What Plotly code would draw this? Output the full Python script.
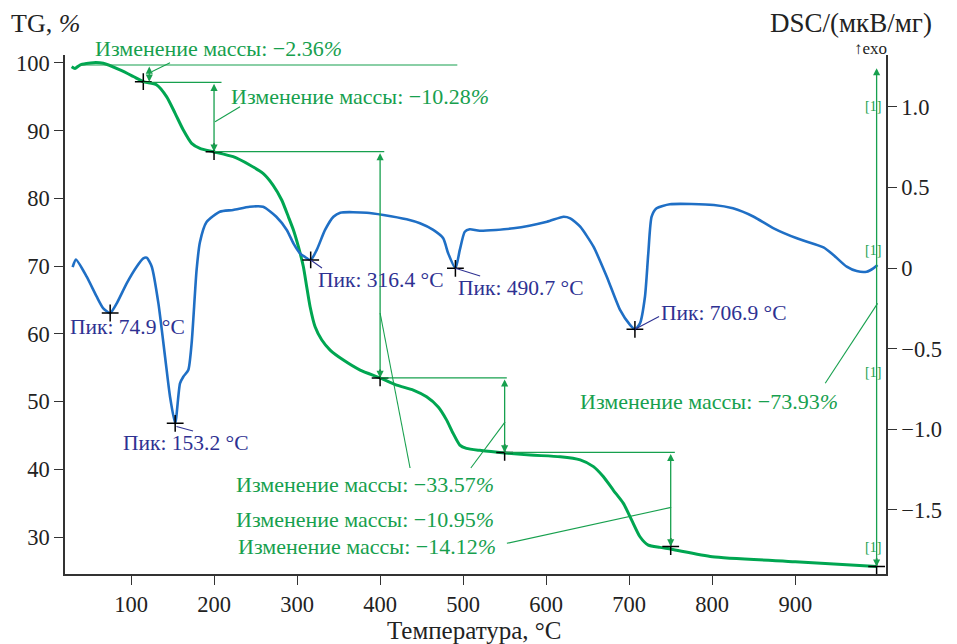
import plotly.graph_objects as go

# ---------------- data ----------------
tg_temp = [28.5, 32.5, 38.5, 54.6, 66.6, 86.7, 102.8, 114.8, 131, 143, 153, 163, 173, 183, 199,
           223, 243, 259, 271, 281.5, 289.5, 295.6, 301.6, 307.6, 311.6, 315.7, 321.7, 329.8, 339.8,
           355.8, 376, 400, 420, 440, 456, 470, 480, 488, 496, 504, 520, 550, 581, 617, 641, 657,
           669, 681, 693, 703, 713, 723, 737, 751, 800, 900, 998]
tg_value = [99.45, 99.2, 99.7, 100.05, 99.95, 98.97, 98.0, 97.24, 96.75, 95.0, 92.6, 90.1, 88.14,
            87.4, 86.9, 86.16, 84.94, 83.7, 81.98, 79.77, 77.3, 75.34, 72.87, 69.92, 66.96, 64.0,
            61.05, 59.09, 57.61, 56.14, 54.66, 53.5, 52.44, 51.7, 50.7, 49.2, 47.3, 45.3, 43.58,
            43.1, 42.8, 42.4, 42.1, 41.86, 41.4, 40.4, 38.9, 36.9, 34.97, 32.5, 30.04, 28.8, 28.47,
            28.2, 27.1, 26.35, 25.64]

dsc_temp = [29.7, 33.7, 46.6, 58.7, 66.6, 74.9, 82.8, 94.8, 106.8, 114.8, 118.9, 125, 133, 141,
            147, 153.2, 159, 163, 169, 173, 179, 183, 191, 207, 223, 243, 259, 275, 287.6, 295.6,
            303.6, 309, 316.4, 323.7, 333.7, 343.8, 352, 384, 404, 432, 448, 464, 476, 482, 490.7,
            496, 502, 508, 520, 560.6, 601, 621, 629, 641, 657, 673, 689, 701, 706.9, 713, 719,
            723, 727, 733, 749, 802, 825, 850, 874, 902, 934, 946, 962, 974, 986, 994, 999]
dsc_value = [0.006, 0.052, -0.054, -0.178, -0.25, -0.279, -0.219, -0.095, 0.008, 0.06, 0.064,
             0.008, -0.219, -0.55, -0.798, -0.963, -0.715, -0.674, -0.632, -0.467, -0.012, 0.16,
             0.285, 0.349, 0.36, 0.38, 0.38, 0.318, 0.236, 0.153, 0.091, 0.07, 0.05, 0.112, 0.236,
             0.318, 0.343, 0.343, 0.329, 0.302, 0.277, 0.236, 0.184, 0.091, -0.002, 0.112, 0.225,
             0.24, 0.231, 0.246, 0.287, 0.318, 0.308, 0.256, 0.132, -0.054, -0.26, -0.353, -0.38,
             -0.343, -0.178, 0.091, 0.318, 0.37, 0.395, 0.391, 0.37, 0.318, 0.246, 0.184, 0.128,
             0.081, 0.008, -0.019, -0.023, -0.002, 0.019]

# TG step points (mass change evaluation points)
step_temp = [114.8, 200, 400, 550, 750, 998]
step_tg = [97.24, 86.9, 53.5, 42.5, 28.6, 25.64]
tg_start_level = 99.7
mass_change_labels = ["Изменение массы: −2.36<i>%</i>", "Изменение массы: −10.28<i>%</i>",
                      "Изменение массы: −33.57<i>%</i>", "Изменение массы: −10.95<i>%</i>",
                      "Изменение массы: −14.12<i>%</i>", "Изменение массы: −73.93<i>%</i>"]

# DSC peaks
peak_temp = [74.9, 153.2, 316.4, 490.7, 706.9]
peak_dsc = [-0.279, -0.963, 0.05, -0.002, -0.38]
peak_labels = ["Пик: 74.9 °C", "Пик: 153.2 °C", "Пик: 316.4 °C", "Пик: 490.7 °C", "Пик: 706.9 °C"]

x_ticks = [100, 200, 300, 400, 500, 600, 700, 800, 900]
tg_ticks = [30, 40, 50, 60, 70, 80, 90, 100]
dsc_ticks = [-1.5, -1.0, -0.5, 0, 0.5, 1.0]
dsc_ticktext = ["−1.5", "−1.0", "−0.5", "0", "0.5", "1.0"]

# ---------------- style ----------------
GREEN = "#00a651"
AGREEN = "#17a04e"
BLUE = "#1f6fc5"
NAVY = "#2e3192"
FONT = "Liberation Serif"
W, H = 957, 644
ML, MR, MT, MB = 65, 71, 55, 70


def px(x):
    return (x - ML) / (W - ML - MR)


def py(y):
    return (H - MB - y) / (H - MT - MB)


fig = go.Figure()
fig.add_trace(go.Scatter(x=dsc_temp, y=dsc_value, mode="lines", yaxis="y2",
                         line=dict(color=BLUE, width=2.6, shape="spline", smoothing=0.6),
                         showlegend=False, hoverinfo="skip"))
fig.add_trace(go.Scatter(x=tg_temp, y=tg_value, mode="lines",
                         line=dict(color=GREEN, width=3, shape="spline", smoothing=0.6),
                         showlegend=False, hoverinfo="skip"))
fig.add_trace(go.Scatter(x=step_temp, y=step_tg, mode="markers",
                         marker=dict(symbol="cross-thin", size=12, line=dict(color="black", width=1.5)),
                         showlegend=False, hoverinfo="skip"))
fig.add_trace(go.Scatter(x=peak_temp, y=peak_dsc, mode="markers", yaxis="y2",
                         marker=dict(symbol="cross-thin", size=12, line=dict(color="black", width=1.5)),
                         showlegend=False, hoverinfo="skip"))

shapes = []
annos = []


def hline(x0, x1, y):
    shapes.append(dict(type="line", xref="x", yref="y", x0=x0, x1=x1, y0=y, y1=y,
                       line=dict(color=AGREEN, width=1.2)))


def seg(x0, y0, x1, y1, yref="y", color=AGREEN):
    shapes.append(dict(type="line", xref="x", yref=yref, x0=x0, x1=x1, y0=y0, y1=y1,
                       line=dict(color=color, width=1.1)))


def darrow(x, y0, y1):
    annos.append(dict(x=x, y=y1, ax=x, ay=y0, xref="x", yref="y", axref="x", ayref="y",
                      text="", showarrow=True, arrowhead=2, arrowside="end+start",
                      arrowsize=1.1, arrowwidth=1.3, arrowcolor=AGREEN))


# step 1
hline(38.5, 493, tg_start_level)
darrow(122, tg_start_level, step_tg[0])
seg(124.9, 98.72, 147, 100.04)
# step 2
hline(step_temp[0], 209, step_tg[0] - 0.1)
darrow(step_temp[1], step_tg[0] - 0.1, step_tg[1])
seg(201.2, 91.33, 231.3, 93.55)
# step 3
hline(step_temp[1], 405, step_tg[1])
darrow(step_temp[2], step_tg[1], step_tg[2])
seg(400, 63.08, 436.1, 40.19)
# step 4
hline(step_temp[2], 552.6, step_tg[2])
darrow(step_temp[3], step_tg[2], step_tg[3])
seg(509.3, 40.19, 550.6, 47.0)
# step 5
hline(step_temp[3], 755, step_tg[3])
darrow(step_temp[4], step_tg[3], step_tg[4])
seg(552.7, 29.07, 750.6, 34.38)
# total
darrow(step_temp[5], 99.45, step_tg[5])
seg(936.1, 52.7, 999.2, 64.5)

# peak leaders
seg(peak_temp[1] + 1.5, peak_dsc[1] - 0.02, 174.7, -1.01, yref="y2", color=NAVY)
seg(peak_temp[2], peak_dsc[2], 330, 0.0, yref="y2", color=NAVY)
seg(peak_temp[3], peak_dsc[3], 520.5, -0.05, yref="y2", color=NAVY)
seg(peak_temp[4], peak_dsc[4], 736, -0.30, yref="y2", color=NAVY)

# mass change texts
text_pos = [(218, 49), (360, 96), (365, 484), (365, 519), (367, 546), (709, 401)]
for lab, (x, y) in zip(mass_change_labels, text_pos):
    annos.append(dict(x=px(x), y=py(y), xref="paper", yref="paper", text=lab, showarrow=False,
                      xanchor="center", yanchor="middle",
                      font=dict(family=FONT, size=22, color=AGREEN)))

peak_pos = [(68, 327), (121, 443), (316, 280), (456, 288), (659, 313)]
for lab, (x, y) in zip(peak_labels, peak_pos):
    annos.append(dict(x=px(x), y=py(y), xref="paper", yref="paper", text=lab, showarrow=False,
                      xanchor="left", yanchor="middle",
                      font=dict(family=FONT, size=21.5, color=NAVY)))

for y in [106, 250, 372, 547]:
    annos.append(dict(x=px(873), y=py(y), xref="paper", yref="paper", text="[1]", showarrow=False,
                      xanchor="center", yanchor="middle",
                      font=dict(family=FONT, size=14, color=AGREEN)))

annos.append(dict(x=px(9), y=py(24), xref="paper", yref="paper", text="TG, <i>%</i>",
                  showarrow=False, xanchor="left", yanchor="middle",
                  font=dict(family=FONT, size=26, color="#222")))
annos.append(dict(x=px(934), y=py(23), xref="paper", yref="paper", text="DSC/(мкВ/мг)",
                  showarrow=False, xanchor="right", yanchor="middle",
                  font=dict(family=FONT, size=27, color="#222")))
annos.append(dict(x=px(889), y=py(48), xref="paper", yref="paper", text="↑exo",
                  showarrow=False, xanchor="right", yanchor="middle",
                  font=dict(family=FONT, size=17, color="#222")))
annos.append(dict(x=px(474), y=py(630), xref="paper", yref="paper", text="Температура, °C",
                  showarrow=False, xanchor="center", yanchor="middle",
                  font=dict(family=FONT, size=25, color="#222")))

axis_common = dict(showgrid=False, zeroline=False, showline=True, linecolor="#333",
                   linewidth=1.5, ticks="outside", ticklen=9, tickwidth=1.3, tickcolor="#333",
                   tickfont=dict(family=FONT, size=22.5, color="#222"))

fig.update_layout(
    width=W, height=H, autosize=False,
    margin=dict(l=ML, r=MR, t=MT, b=MB),
    paper_bgcolor="white", plot_bgcolor="white",
    showlegend=False,
    font=dict(family=FONT),
    xaxis=dict(range=[20.5, 1009.3], tickvals=x_ticks, **axis_common),
    yaxis=dict(range=[24.54, 101.18], tickvals=tg_ticks, **axis_common),
    yaxis2=dict(range=[-1.897, 1.3205], tickvals=dsc_ticks, ticktext=dsc_ticktext,
                overlaying="y", side="right", anchor="x", **axis_common),
    shapes=shapes,
    annotations=annos,
)

fig.write_html("out.html", config={"displayModeBar": False},
               post_script="document.body.style.margin='0';document.body.style.overflow='hidden';")
